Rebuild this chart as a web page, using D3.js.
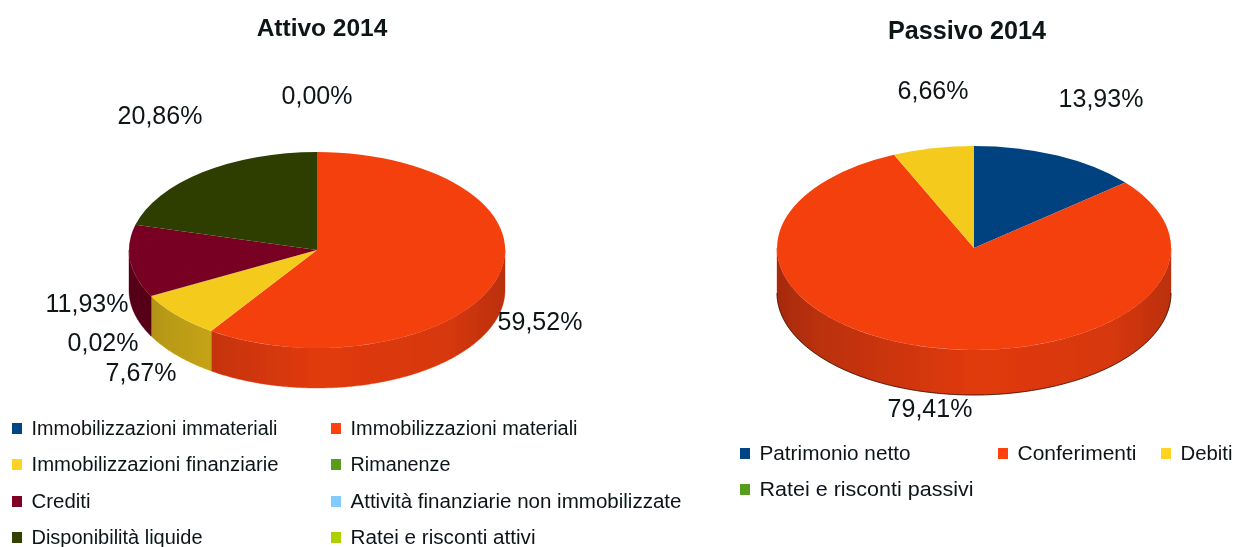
<!DOCTYPE html>
<html><head><meta charset="utf-8">
<script src="https://cdn.jsdelivr.net/npm/d3@7"></script>
<style>html,body{margin:0;padding:0;background:#fff}svg{display:block}text{font-family:"Liberation Sans",Arial,sans-serif;fill:#101418}</style>
</head><body><div id="c"></div>
<script>
const attivoCategories=["Immobilizzazioni immateriali","Immobilizzazioni materiali","Immobilizzazioni finanziarie","Rimanenze","Crediti","Attività finanziarie non immobilizzate","Disponibilità liquide","Ratei e risconti attivi"];
const attivoValues=[0,59.52,7.67,0.02,11.93,0,20.86,0];
const attivoColors=["#004586","#ff420e","#ffd320","#579d1c","#7e0021","#83caff","#314004","#aecf00"];
const passivoCategories=["Patrimonio netto","Conferimenti","Debiti","Ratei e risconti passivi"];
const passivoValues=[13.93,79.41,6.66,0];
const passivoColors=["#004586","#ff420e","#ffd320","#579d1c"];
const attivoLabels=["0,00%","59,52%","7,67%","0,02%","11,93%","20,86%"];
const passivoLabels=["13,93%","79,41%","6,66%"];

const W=1239,H=547;
const svg=d3.select("#c").append("svg").attr("width",W).attr("height",H);
const defs=svg.append("defs");
defs.append("filter").attr("id","soft").attr("x","-5%").attr("y","-5%").attr("width","110%").attr("height","110%")
  .append("feGaussianBlur").attr("stdDeviation",0.6);
const root=svg.append("g").attr("filter","url(#soft)");

const topShade=c=>{const k=d3.rgb(c);return d3.rgb(k.r*0.955,k.g*0.955,k.b*0.955).formatHex();};

function pie3d(id,values,colors,g){
  const {cx,cy,rx,ry,depth,outline}=g;
  const pie=d3.pie().sort(null).value(d=>d)(values.map(v=>v));
  const grp=root.append("g");
  const px=a=>cx+rx*Math.sin(a), py=a=>cy-ry*Math.cos(a);
  const line=d3.line();
  const lo=Math.PI/2, hi=Math.PI*1.5;
  const grad=defs.append("linearGradient").attr("id",id)
    .attr("gradientUnits","userSpaceOnUse").attr("x1",cx-rx).attr("x2",cx+rx).attr("y1",0).attr("y2",0);
  [[0,0.32],[0.1,0.24],[0.5,0.08],[0.85,0.12],[1,0.24]].forEach(s=>
    grad.append("stop").attr("offset",s[0]).attr("stop-color","#000").attr("stop-opacity",s[1]));
  pie.forEach((d,i)=>{
    const a0=Math.max(d.startAngle,lo),a1=Math.min(d.endAngle,hi);
    if(d.value<=0||a1<=a0)return;
    const n=Math.max(2,Math.ceil((a1-a0)/0.01));
    const as=d3.range(n+1).map(k=>a0+(a1-a0)*k/n);
    const pts=as.map(a=>[px(a),py(a)]).concat(as.slice().reverse().map(a=>[px(a),py(a)+depth]));
    grp.append("path").attr("d",line(pts)+"Z").attr("fill",topShade(colors[i])).attr("stroke",topShade(colors[i])).attr("stroke-width",0.4);
    grp.append("path").attr("d",line(pts)+"Z").attr("fill",`url(#${id})`);
  });
  if(outline){
    const as=d3.range(0,181).map(k=>lo+Math.PI*k/180);
    grp.append("path").attr("d",line(as.map(a=>[px(a),py(a)+depth]))).attr("fill","none").attr("stroke","#1a0a04").attr("stroke-width",0.9).attr("stroke-opacity",0.8);
  }
  const arc=d3.arc().innerRadius(0).outerRadius(1);
  pie.forEach((d,i)=>{
    if(d.value<=0)return;
    grp.append("path").attr("d",arc(d)).attr("transform",`translate(${cx},${cy}) scale(${rx},${ry})`)
      .attr("fill",topShade(colors[i]));
  });
}
pie3d("sideA",attivoValues,attivoColors,{cx:317,cy:250,rx:188,ry:98,depth:40,outline:false});
pie3d("sideP",passivoValues,passivoColors,{cx:974,cy:248,rx:197,ry:102,depth:45,outline:true});

function text(t,x,y,size,anchor,bold){
  return root.append("text").attr("x",x).attr("y",y).attr("font-size",size).attr("text-anchor",anchor||"middle")
    .attr("font-weight",bold?"bold":"normal").text(t);
}
text("Attivo 2014",322,36,24.5,"middle",true);
text("Passivo 2014",967,39,25.2,"middle",true);

const attivoLabelPos=[[317,104],[540,330],[141,381],[103,351],[87,312],[160,124]];
attivoLabels.forEach((t,i)=>text(t,attivoLabelPos[i][0],attivoLabelPos[i][1],25));
const passivoLabelPos=[[1101,107],[930,417],[933,99]];
passivoLabels.forEach((t,i)=>text(t,passivoLabelPos[i][0],passivoLabelPos[i][1],25));

function legend(cats,cols,pos,widths,size){
  cats.forEach((c,i)=>{
    const [x,y]=pos[i];
    root.append("rect").attr("x",x).attr("y",y-5).attr("width",10).attr("height",11).attr("fill",cols[i]);
    root.append("text").attr("x",x+19.5).attr("y",y+7).attr("font-size",size)
      .attr("textLength",widths[i]).attr("lengthAdjust","spacingAndGlyphs").text(c);
  });
}
legend(attivoCategories,attivoColors,[[12,428],[331,428],[12,464],[331,464],[12,501],[331,501],[12,537],[331,537]],[246,227,247,100,59,331,171,185],20);
legend(passivoCategories,passivoColors,[[740,453],[998,453],[1161,453],[740,489]],[151,119,52,214],20.5);
</script></body></html>
